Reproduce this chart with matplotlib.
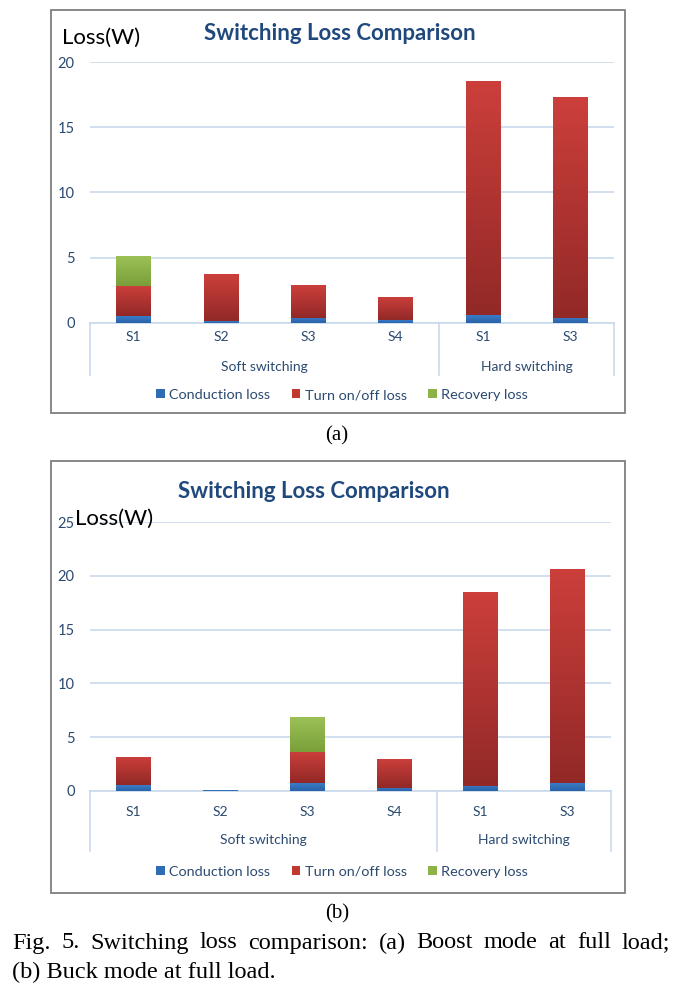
import numpy as np
import matplotlib
matplotlib.use("Agg")
import matplotlib.pyplot as plt
from matplotlib.patches import Rectangle, Patch
from matplotlib.colors import LinearSegmentedColormap
from matplotlib.lines import Line2D

# ---------------- data ----------------
categories = ['S1', 'S2', 'S3', 'S4', 'S1', 'S3']
group_names = ['Soft switching', 'Hard switching']
group_spans = [(0, 3), (4, 5)]
series_names = ['Conduction loss', 'Turn on/off loss', 'Recovery loss']

a_conduction = [0.5, 0.15, 0.4, 0.2, 0.6, 0.4]
a_turn = [2.3, 3.6, 2.5, 1.8, 17.95, 16.9]
a_recovery = [2.3, 0.0, 0.0, 0.0, 0.0, 0.0]
a_yticks = [0, 5, 10, 15, 20]

b_conduction = [0.55, 0.05, 0.7, 0.3, 0.5, 0.7]
b_turn = [2.65, 0.0, 2.9, 2.7, 18.0, 19.9]
b_recovery = [0.0, 0.0, 3.3, 0.0, 0.0, 0.0]
b_yticks = [0, 5, 10, 15, 20, 25]

title = 'Switching Loss Comparison'
ylabel = 'Loss(W)'
caption1 = 'Fig. 5. Switching loss comparison: (a) Boost mode at full load;'
caption2 = '(b) Buck mode at full load.'

# ---------------- style ----------------
W, H = 684, 993
FONT = 'Lato'
navy = '#1F497D'
tick_col = '#2B4A70'
grid_col = '#C9D9EC'
colors = {
    'Conduction loss': ('#3A7BC8', '#2A62A6'),
    'Turn on/off loss': ('#CC3F3B', '#922927'),
    'Recovery loss': ('#9CC257', '#7A9F3A'),
}
solid = {'Conduction loss': '#2E6DB4', 'Turn on/off loss': '#C0392F', 'Recovery loss': '#8DB347'}

fig = plt.figure(figsize=(W / 100, H / 100), dpi=100)


def rect(x0, y0, x1, y1):
    return [x0 / W, 1 - y1 / H, (x1 - x0) / W, (y1 - y0) / H]


def grad_bar(ax, x, bottom, height, width, ctop, cbot):
    if height <= 0:
        return
    bar = ax.bar(x, height, width, bottom=bottom, color=cbot, linewidth=0, zorder=3)[0]
    img = np.linspace(0, 1, 128).reshape(-1, 1)
    cmap = LinearSegmentedColormap.from_list('g', [cbot, ctop])
    im = ax.imshow(img, cmap=cmap, origin='lower', aspect='auto',
                   extent=(x - width / 2, x + width / 2, bottom, bottom + height), zorder=3.1)
    im.set_clip_path(bar)


def panel(frame, axbox, series, yticks, title_xy, ylabel_xy, cat_dy, grp_dy, line_dy, legend_y):
    fx0, fy0, fx1, fy1 = frame
    fig.patches.append(Rectangle((fx0 / W, 1 - fy1 / H), (fx1 - fx0) / W, (fy1 - fy0) / H,
                                 transform=fig.transFigure, fill=False, edgecolor='#7F7F7F', lw=1.3))
    ax = fig.add_axes(rect(*axbox))
    x = np.arange(len(categories))
    bottom = np.zeros(len(categories))
    for name, vals in zip(series_names, series):
        ctop, cbot = colors[name]
        for i, v in enumerate(vals):
            grad_bar(ax, x[i], bottom[i], v, 0.40, ctop, cbot)
        bottom += np.array(vals)
    ax.set_xlim(-0.5, len(categories) - 0.5)
    ax.set_ylim(0, yticks[-1])
    for s in ['top', 'right', 'left']:
        ax.spines[s].set_visible(False)
    ax.spines['bottom'].set_color(grid_col)
    ax.spines['bottom'].set_linewidth(1.2)
    ax.set_yticks(yticks)
    ax.set_yticklabels([str(t) for t in yticks], family=FONT, fontsize=10.5, color=tick_col)
    ax.tick_params(axis='y', length=0, pad=11)
    ax.tick_params(axis='x', length=0)
    ax.set_xticks([])
    ax.yaxis.grid(True, color=grid_col, lw=1.2, zorder=0)
    ax.set_axisbelow(True)
    ax.patch.set_visible(False)
    # category labels
    tr = ax.get_xaxis_transform()
    axh = axbox[3] - axbox[1]
    for i, c in enumerate(categories):
        ax.text(i, -cat_dy / axh, c, transform=tr, ha='center', va='center',
                family=FONT, fontsize=10, color=tick_col)
    for name, (s, e) in zip(group_names, group_spans):
        ax.text((s + e) / 2, -grp_dy / axh, name, transform=tr, ha='center', va='center',
                family=FONT, fontsize=10, color=tick_col)
    for xb in [-0.5, 3.5, 5.5]:
        ax.add_line(Line2D([xb, xb], [0, -line_dy / axh], transform=tr, color=grid_col,
                           lw=1.2, clip_on=False))
    fig.text(title_xy[0] / W, 1 - title_xy[1] / H, title, ha='center', va='center',
             family=FONT, fontweight='bold', fontsize=16, color=navy)
    fig.text(ylabel_xy[0] / W, 1 - ylabel_xy[1] / H, ylabel, ha='left', va='center',
             family=FONT, fontsize=16, color='black')
    handles = [Patch(facecolor=solid[n], edgecolor='none') for n in series_names]
    fig.legend(handles, series_names, loc='center', bbox_to_anchor=(342 / W, 1 - legend_y / H),
               ncol=3, frameon=False, handlelength=0.6, handleheight=0.6, handletextpad=0.3,
               columnspacing=1.5, prop={'family': FONT, 'size': 10.4}, labelcolor=tick_col)
    return ax


panel((51, 10, 625, 413), (90, 62, 614, 323),
      [a_conduction, a_turn, a_recovery], a_yticks,
      (340, 33), (62, 38), 14, 44, 52, 395)
panel((51, 461, 625, 893), (90, 522, 611, 791),
      [b_conduction, b_turn, b_recovery], b_yticks,
      (314, 491), (75, 519), 21, 49, 60, 872)

serif = 'Liberation Serif'
fig.text(337 / W, 1 - 436 / H, '(a)', ha='center', va='center', family=serif, fontsize=15)
fig.text(337 / W, 1 - 914 / H, '(b)', ha='center', va='center', family=serif, fontsize=15)

# justified first caption line
renderer = fig.canvas.get_renderer()
words = caption1.split(' ')
x_left, x_right = 12, 670
cap_size = 17.5
tmp = [fig.text(0, 0, w, family=serif, fontsize=cap_size) for w in words]
widths = [t.get_window_extent(renderer).width for t in tmp]
for t in tmp:
    t.remove()
gap = (x_right - x_left - sum(widths)) / (len(words) - 1)
xc = x_left
for w, wd in zip(words, widths):
    fig.text(xc / W, 1 - 943 / H, w, ha='left', va='center', family=serif, fontsize=cap_size)
    xc += wd + gap
fig.text(x_left / W, 1 - 972 / H, caption2, ha='left', va='center', family=serif, fontsize=cap_size)

fig.savefig('out.png', dpi=100)
